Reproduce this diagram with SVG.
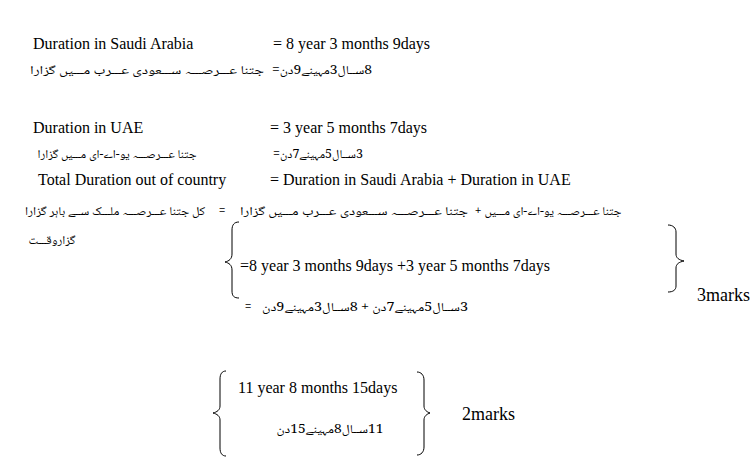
<svg xmlns="http://www.w3.org/2000/svg" width="751" height="466" viewBox="0 0 751 466">
<style>
.en{font-family:"Liberation Serif","Times New Roman",serif;font-size:16px;fill:#000}
.mk{font-family:"Liberation Serif","Times New Roman",serif;font-size:18px;fill:#000}
.ur{font-family:"Noto Naskh Arabic","DejaVu Sans","Noto Sans",sans-serif;font-size:12px;fill:#000;direction:rtl;unicode-bidi:embed;text-anchor:middle}
.br{fill:none;stroke:#000;stroke-width:1}
</style>
<rect width="751" height="466" fill="#fff"/>
<g id="saudi">
<text class="en" x="33" y="49">Duration in Saudi Arabia</text>
<text class="en" x="273" y="49">= 8 year 3 months 9days</text>
<text class="ur" x="322" y="74" direction="rtl" textLength="100" lengthAdjust="spacingAndGlyphs">8ســال3مہینے9دن=</text>
<text class="ur" x="147" y="74" direction="rtl" textLength="234" lengthAdjust="spacingAndGlyphs">جتنا عـــرصـــہ ســـعودی عـــرب مـــیں گزارا</text>
</g>
<g id="uae">
<text class="en" x="33" y="133">Duration in UAE</text>
<text class="en" x="270" y="133">= 3 year 5 months 7days</text>
<text class="ur" x="318" y="158" direction="rtl" textLength="90" lengthAdjust="spacingAndGlyphs">3ســال5مہینے7دن=</text>
<text class="ur" x="117" y="158" direction="rtl" textLength="159" lengthAdjust="spacingAndGlyphs">جتنا عـــرصـــہ یو-اے-ای مـــیں گزارا</text>
</g>
<g id="total">
<text class="en" x="38" y="185">Total Duration out of country</text>
<text class="en" x="270" y="185">= Duration in Saudi Arabia + Duration in UAE</text>
<text class="ur" x="553" y="215" direction="rtl" textLength="137" lengthAdjust="spacingAndGlyphs">جتنا عـــرصـــہ یو-اے-ای مـــیں</text>
<text class="ur" x="478" y="215">+</text>
<text class="ur" x="354" y="215" direction="rtl" textLength="228" lengthAdjust="spacingAndGlyphs">جتنا عـــرصـــہ ســـعودی عـــرب مـــیں گزارا</text>
<text class="ur" x="222" y="215">=</text>
<text class="ur" x="115" y="215" direction="rtl" textLength="180" lengthAdjust="spacingAndGlyphs">کل جتنا عـــرصـــہ ملـــک ســے باہر گزارا</text>
<text class="ur" x="52" y="244" direction="rtl" textLength="47" lengthAdjust="spacingAndGlyphs">گزاروقـــت</text>
</g>
<g id="sum">
<path class="br" d="M239,222 C234,222 232,225 232,230 L232,254 C232,259 229,261 225,262 C229,263 232,265 232,270 L232,291 C232,296 234,298 239,298"/>
<path class="br" d="M668,225 C673,225 676,228 676,232 L676,254 C676,258 679,260 684,261 C679,262 676,264 676,268 L676,286 C676,290 673,292 668,292"/>
<text class="en" x="240" y="271">=8 year 3 months 9days +3 year 5 months 7days</text>
<text class="ur" x="248" y="311">=</text>
<text class="ur" x="365" y="311" direction="rtl" textLength="206" lengthAdjust="spacingAndGlyphs">3ســال5مہینے7دن + 8ســال3مہینے9دن</text>
<text class="mk" x="697" y="301">3marks</text>
</g>
<g id="result">
<path class="br" d="M226,371 C222,371 220,374 220,379 L220,406 C220,410 217,412 213,413 C217,414 220,416 220,420 L220,448 C220,453 222,456 226,456"/>
<path class="br" d="M417,372 C421,372 424,375 424,380 L424,406 C424,410 427,412 430,413 C427,414 424,416 424,420 L424,447 C424,452 421,455 417,455"/>
<text class="en" x="238" y="393">11 year 8 months 15days</text>
<text class="ur" x="330" y="433" direction="rtl" textLength="107" lengthAdjust="spacingAndGlyphs">11ســال8مہینے15دن</text>
<text class="mk" x="462" y="420">2marks</text>
</g>
</svg>
